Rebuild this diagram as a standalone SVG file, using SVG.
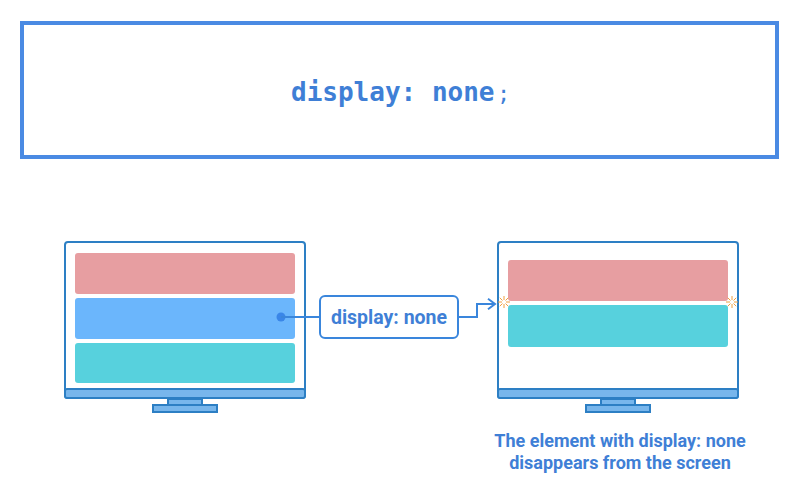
<svg xmlns="http://www.w3.org/2000/svg" width="800" height="490" viewBox="0 0 800 490">
<defs>
<style>
.mon{fill:#fff;stroke:#2d7fc4;stroke-width:2}
.base{fill:#78b6ec;stroke:#2d7fc4;stroke-width:2}
.red{fill:#e79ea1}
.blu{fill:#6bb6fc}
.teal{fill:#57d1dd}
.lbl{font-family:Roboto,"Liberation Sans",sans-serif;font-weight:bold;fill:#3f7fd6}
.spark{stroke:#f0a040;stroke-width:1;fill:none}
.conn{stroke:#3a86dc;stroke-width:2;fill:none}
</style>
<marker id="arr" viewBox="0 0 12 12" refX="10" refY="6" markerWidth="12" markerHeight="12" orient="auto" markerUnits="userSpaceOnUse">
<path d="M3,0.8 L10,6 L3,11.2" fill="none" stroke="#3a86dc" stroke-width="2"/>
</marker>
<g id="sparkshape">
<path class="spark" d="M0,-6V-2M0,2V6M-6,0H-2M2,0H6M-4.2,-4.2L-1.5,-1.5M1.5,1.5L4.2,4.2M-4.2,4.2L-1.5,1.5M1.5,-1.5L4.2,-4.2"/>
</g>
</defs>
<rect width="800" height="490" fill="#fff"/>
<g id="header">
<rect x="22" y="23" width="755" height="134" fill="#fff" stroke="#4a8ae3" stroke-width="4"/>
<text x="291" y="101" font-family="'DejaVu Sans Mono','Liberation Mono',monospace" font-size="26" font-weight="bold" fill="#3f7fd6">display: none</text>
<text x="497" y="101" font-family="'DejaVu Sans Mono','Liberation Mono',monospace" font-size="22" fill="#3f7fd6">;</text>
</g>
<g id="monitor-left">
<rect class="mon" x="65" y="242" width="240" height="156" rx="3"/>
<rect class="base" x="65" y="389" width="240" height="9" rx="2"/>
<rect class="base" x="168" y="399" width="34" height="6"/>
<rect class="base" x="153" y="405" width="64" height="7"/>
<rect class="red" x="75" y="253" width="220" height="41" rx="3"/>
<rect class="blu" x="75" y="298" width="220" height="41" rx="3"/>
<rect class="teal" x="75" y="343" width="220" height="40" rx="3"/>
</g>
<g id="monitor-right">
<rect class="mon" x="498" y="242" width="240" height="156" rx="3"/>
<rect class="base" x="498" y="389" width="240" height="9" rx="2"/>
<rect class="base" x="601" y="399" width="34" height="6"/>
<rect class="base" x="586" y="405" width="64" height="7"/>
<rect class="red" x="508" y="260" width="220" height="41" rx="3"/>
<rect class="teal" x="508" y="305" width="220" height="42" rx="3"/>
<use href="#sparkshape" x="504" y="302"/>
<use href="#sparkshape" x="732" y="302"/>
</g>
<g id="label-node">
<rect x="320" y="296" width="138" height="42" rx="5" fill="#fff" stroke="#3a86dc" stroke-width="2"/>
<text class="lbl" x="389" y="324" text-anchor="middle" font-size="19.5">display: none</text>
</g>
<g id="connectors">
<circle cx="281" cy="317" r="4.5" fill="#3a86e8"/>
<path class="conn" d="M281,317H320"/>
<path class="conn" d="M458,317H477V304H495" marker-end="url(#arr)"/>
</g>
<g id="caption">
<text class="lbl" x="620" y="447" text-anchor="middle" font-size="18">The element with display: none</text>
<text class="lbl" x="620" y="469" text-anchor="middle" font-size="18">disappears from the screen</text>
</g>
</svg>
